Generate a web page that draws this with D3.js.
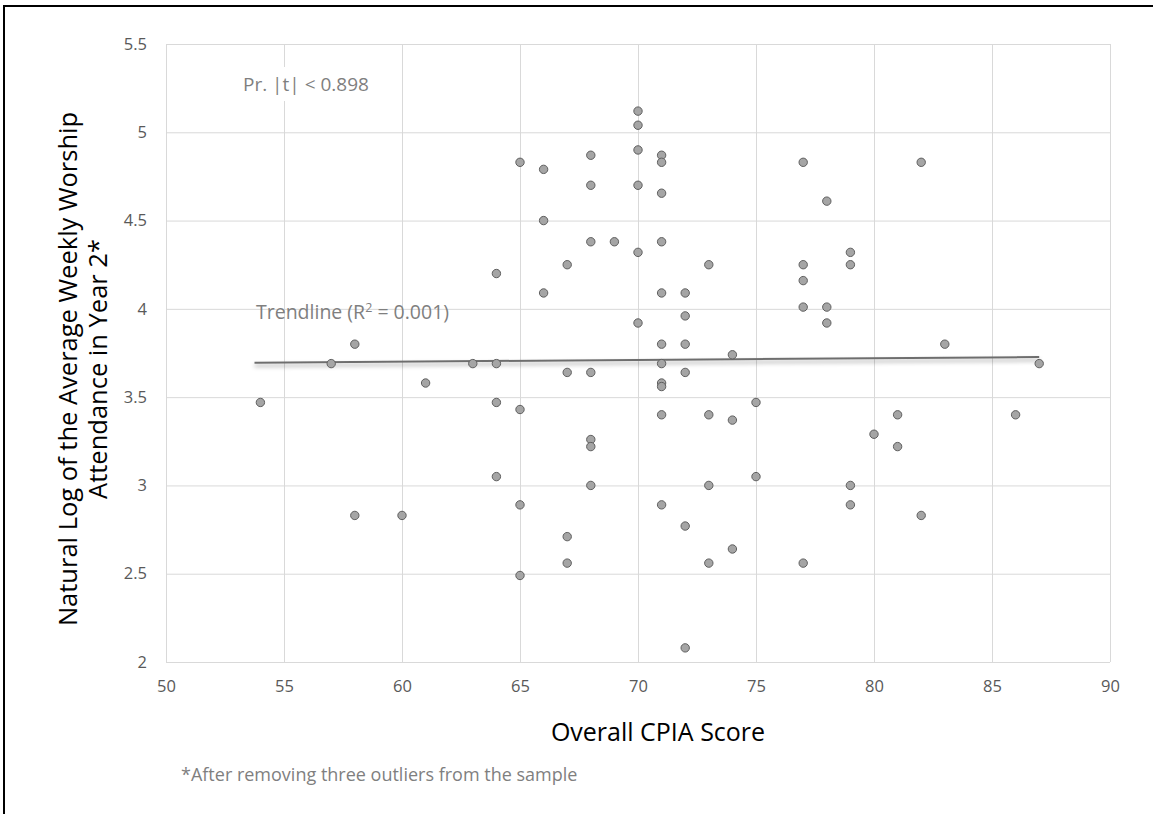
<!DOCTYPE html>
<html>
<head>
<meta charset="utf-8">
<script src="https://cdn.jsdelivr.net/npm/d3@7"></script>
<style>
  body { margin: 0; background: #fff; }
  text { font-family: "Open Sans", "DejaVu Sans", sans-serif; }
</style>
</head>
<body>
<div id="chart"></div>
<script>
// CPIA score (x) and ln of average weekly attendance (y)
const cpiaScores = [
  54, 57, 58, 58, 60, 61, 63, 64, 64, 64, 64,
  65, 65, 65, 65, 66, 66, 66, 67, 67, 67, 67,
  68, 68, 68, 68, 68, 68, 68, 69,
  70, 70, 70, 70, 70, 70,
  71, 71, 71, 71, 71, 71, 71, 71, 71, 71, 71,
  72, 72, 72, 72, 72, 72, 73, 73, 73, 73,
  74, 74, 74, 75, 75,
  77, 77, 77, 77, 77, 78, 78, 78,
  79, 79, 79, 79, 80, 81, 81, 82, 82, 83, 86, 87
];
const logAttendance = [
  3.47, 3.69, 3.80, 2.83, 2.83, 3.58, 3.69, 4.20, 3.69, 3.47, 3.05,
  4.83, 3.43, 2.89, 2.49, 4.79, 4.50, 4.09, 4.25, 3.64, 2.71, 2.56,
  4.87, 4.70, 4.38, 3.64, 3.26, 3.22, 3.00, 4.38,
  5.12, 5.04, 4.90, 4.70, 4.32, 3.92,
  4.87, 4.83, 4.655, 4.38, 4.09, 3.80, 3.69, 3.58, 3.56, 3.40, 2.89,
  4.09, 3.96, 3.80, 3.64, 2.77, 2.08, 4.25, 3.40, 3.00, 2.56,
  3.74, 3.37, 2.64, 3.47, 3.05,
  4.83, 4.25, 4.16, 4.01, 2.56, 4.61, 4.01, 3.92,
  4.32, 4.25, 3.00, 2.89, 3.29, 3.40, 3.22, 4.83, 2.83, 3.80, 3.40, 3.69
];
// trendline ends as drawn in the original (fitted on the full-precision data)
const trendX = [53.75, 87];
const trendY = [3.695, 3.727];

const xTicks = [50, 55, 60, 65, 70, 75, 80, 85, 90];
const yTicks = [2, 2.5, 3, 3.5, 4, 4.5, 5, 5.5];

const xTitle = "Overall CPIA Score";
const yTitle = ["Natural Log of the Average Weekly Worship", "Attendance in Year 2*"];
const pValueLabel = "Pr. |t| < 0.898";
const footnote = "*After removing three outliers from the sample";

const width = 1153, height = 814;
const plotLeft = 166, plotRight = 1110, plotTop = 44, plotBottom = 662;

const svg = d3.select("#chart").append("svg")
  .attr("width", width)
  .attr("height", height);

// shadow under the trendline
const defs = svg.append("defs");
defs.append("filter").attr("id", "shadow")
  .attr("x", "-5%").attr("y", "-400%").attr("width", "110%").attr("height", "900%")
  .append("feDropShadow")
  .attr("dx", 0).attr("dy", 3).attr("stdDeviation", 2)
  .attr("flood-color", "#000").attr("flood-opacity", 0.35);

const x = d3.scaleLinear().domain([50, 90]).range([plotLeft, plotRight]);
const y = d3.scaleLinear().domain([2, 5.5]).range([plotBottom, plotTop]);

// gridlines
svg.append("g")
  .attr("transform", `translate(0, ${plotBottom})`)
  .call(d3.axisBottom(x).tickValues(xTicks).tickSize(-(plotBottom - plotTop)).tickFormat(""))
  .call(g => g.select(".domain").remove())
  .selectAll("line").attr("stroke", "#d9d9d9");

svg.append("g")
  .attr("transform", `translate(${plotLeft}, 0)`)
  .call(d3.axisLeft(y).tickValues(yTicks).tickSize(-(plotRight - plotLeft)).tickFormat(""))
  .call(g => g.select(".domain").remove())
  .selectAll("line").attr("stroke", "#d9d9d9");

// tick labels
svg.append("g")
  .attr("transform", `translate(0, ${plotBottom})`)
  .call(d3.axisBottom(x).tickValues(xTicks).tickSize(0).tickPadding(18))
  .call(g => g.select(".domain").remove())
  .selectAll("text")
  .attr("fill", "#595959")
  .style("font-size", "16.5px")
  .style("font-family", "'Open Sans', sans-serif");

svg.append("g")
  .attr("transform", `translate(${plotLeft}, 0)`)
  .call(d3.axisLeft(y).tickValues(yTicks).tickSize(0).tickPadding(19).tickFormat(d => d))
  .call(g => g.select(".domain").remove())
  .selectAll("text")
  .attr("fill", "#595959")
  .style("font-size", "16.5px")
  .style("font-family", "'Open Sans', sans-serif");

// trendline
svg.append("line")
  .attr("x1", x(trendX[0]))
  .attr("y1", y(trendY[0]))
  .attr("x2", x(trendX[1]))
  .attr("y2", y(trendY[1]))
  .attr("stroke", "#6e6e6e")
  .attr("stroke-width", 2)
  .attr("filter", "url(#shadow)");

// points
const pts = cpiaScores.map((v, i) => [v, logAttendance[i]]);
svg.append("g")
  .selectAll("circle")
  .data(pts)
  .enter().append("circle")
  .attr("cx", d => x(d[0]))
  .attr("cy", d => y(d[1]))
  .attr("r", 4.2)
  .attr("fill", "#a5a5a5")
  .attr("stroke", "#5f5f5f")
  .attr("stroke-width", 1);

// p-value label with white box
const pLabel = svg.append("g");
const pText = pLabel.append("text")
  .attr("x", 243)
  .attr("y", 91)
  .attr("fill", "#7f7f7f")
  .style("font-size", "19px")
  .text(pValueLabel);
const pb = pText.node().getBBox();
pLabel.insert("rect", "text")
  .attr("x", pb.x - 6).attr("y", pb.y - 4)
  .attr("width", pb.width + 12).attr("height", pb.height + 8)
  .attr("fill", "#fff");

// trendline label
const tl = svg.append("text")
  .attr("x", 256)
  .attr("y", 319)
  .attr("fill", "#7f7f7f")
  .style("font-size", "19.5px");
tl.append("tspan").text("Trendline (R");
tl.append("tspan").attr("dy", -7).style("font-size", "12.5px").text("2");
tl.append("tspan").attr("dy", 7).text(" = 0.001)");

// axis titles
svg.append("text")
  .attr("x", 658)
  .attr("y", 741)
  .attr("text-anchor", "middle")
  .attr("fill", "#000")
  .style("font-size", "25px")
  .text(xTitle);

const yt = svg.append("text")
  .attr("transform", `translate(77, ${(plotTop + plotBottom) / 2 + 16}) rotate(-90)`)
  .attr("text-anchor", "middle")
  .attr("fill", "#000")
  .style("font-size", "25.5px");
yt.selectAll("tspan")
  .data(yTitle)
  .enter().append("tspan")
  .attr("x", 0)
  .attr("dy", (d, i) => i === 0 ? 0 : 30)
  .text(d => d);

// footnote
svg.append("text")
  .attr("x", 181)
  .attr("y", 781)
  .attr("fill", "#7f7f7f")
  .style("font-size", "18px")
  .text(footnote);

// frame edges of the original capture
svg.append("line")
  .attr("x1", 4).attr("y1", 6).attr("x2", width).attr("y2", 6)
  .attr("stroke", "#000").attr("stroke-width", 2);
svg.append("line")
  .attr("x1", 4).attr("y1", 5).attr("x2", 4).attr("y2", height)
  .attr("stroke", "#000").attr("stroke-width", 2);
</script>
</body>
</html>
